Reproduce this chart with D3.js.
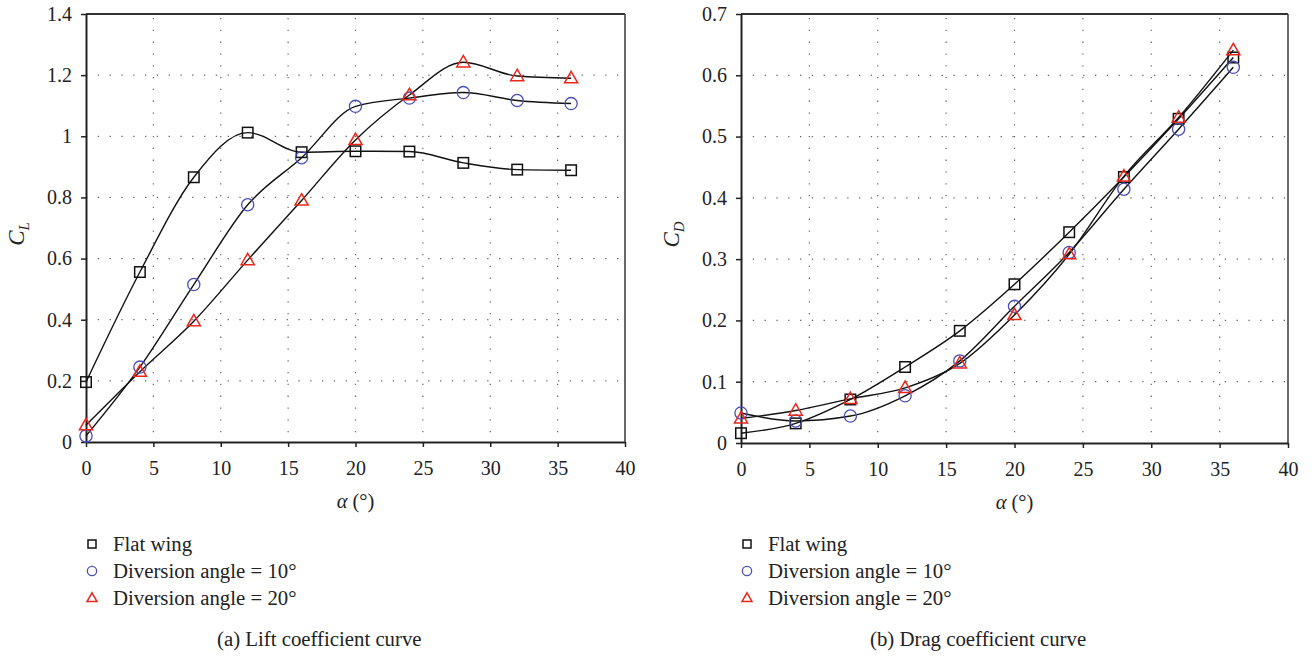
<!DOCTYPE html>
<html>
<head>
<meta charset="utf-8">
<script src="https://cdn.jsdelivr.net/npm/d3@7"></script>
<style>
  body { margin: 0; background: #fff; }
</style>
</head>
<body>
<div id="canvas"></div>
<script>
// data

const alpha = [0, 4, 8, 12, 16, 20, 24, 28, 32, 36];

const clFlat = [0.196, 0.556, 0.866, 1.012, 0.948, 0.951, 0.950, 0.913, 0.891, 0.889];
const cl10 = [0.020, 0.245, 0.515, 0.776, 0.930, 1.098, 1.125, 1.143, 1.117, 1.107];
const cl20 = [0.055, 0.230, 0.395, 0.595, 0.790, 0.988, 1.135, 1.242, 1.197, 1.190];

const cdFlat = [0.016, 0.032, 0.071, 0.124, 0.183, 0.259, 0.344, 0.434, 0.529, 0.629];
const cd10 = [0.049, 0.036, 0.044, 0.077, 0.134, 0.223, 0.311, 0.414, 0.512, 0.613];
const cd20 = [0.040, 0.053, 0.072, 0.090, 0.130, 0.209, 0.308, 0.435, 0.531, 0.641];

const seriesNames = ["Flat wing", "Diversion angle = 10\u00b0", "Diversion angle = 20\u00b0"];
const xTicks = [0, 5, 10, 15, 20, 25, 30, 35, 40];
const clTicks = [0, 0.2, 0.4, 0.6, 0.8, 1, 1.2, 1.4];
const cdTicks = [0, 0.1, 0.2, 0.3, 0.4, 0.5, 0.6, 0.7];

// constants
const width = 1314;
const height = 657;
const serif = "'Liberation Serif', 'DejaVu Serif', 'Times New Roman', serif";
const markerStyle = [
  { shape: "square", color: "#111" },
  { shape: "circle", color: "#4b4fb5" },
  { shape: "triangle", color: "#e8281e" }
];

const svg = d3.select('#canvas')
  .append('svg').attr('width', width).attr('height', height)
  .attr('font-family', serif);

// draws one marker centred at 0,0
function marker(sel, shape, color, s) {
  if (shape === "square") {
    sel.append("rect").attr("x", -s / 2).attr("y", -s / 2)
      .attr("width", s).attr("height", s)
      .attr("fill", "none").attr("stroke", color).attr("stroke-width", 1.5);
  } else if (shape === "circle") {
    sel.append("circle").attr("r", s * 0.58)
      .attr("fill", "none").attr("stroke", color).attr("stroke-width", 1.3);
  } else {
    const h = s * 1.05, w = s * 1.25;
    sel.append("path")
      .attr("d", `M0,${-h * 0.62}L${w / 2},${h * 0.42}L${-w / 2},${h * 0.42}Z`)
      .attr("fill", "none").attr("stroke", color).attr("stroke-width", 1.5);
  }
}

function txt(sel) {
  return sel.style("font-family", serif).attr("fill", "#222");
}

function drawPanel(opt) {
  const g = svg.append("g");
  const x = d3.scaleLinear().domain([0, 40]).range([opt.left, opt.right]);
  const y = d3.scaleLinear().domain([0, opt.ymax]).range([opt.bottom, opt.top]);

  // dotted grid
  g.append("g").selectAll("line")
    .data(xTicks.slice(1, -1)).join("line")
    .attr("x1", d => x(d)).attr("x2", d => x(d))
    .attr("y1", opt.top + 4).attr("y2", opt.bottom)
    .attr("stroke", "#666").attr("stroke-width", 1.2)
    .attr("stroke-dasharray", "1.3,10.5");
  g.append("g").selectAll("line")
    .data(opt.yTicks.slice(1, -1)).join("line")
    .attr("x1", opt.left).attr("x2", opt.right)
    .attr("y1", d => y(d)).attr("y2", d => y(d))
    .attr("stroke", "#666").attr("stroke-width", 1.2)
    .attr("stroke-dasharray", "1.3,10.5");

  // frame top / right
  g.append("line").attr("x1", opt.left).attr("x2", opt.right)
    .attr("y1", opt.top).attr("y2", opt.top)
    .attr("stroke", "#333").attr("stroke-width", 2);
  g.append("line").attr("x1", opt.right).attr("x2", opt.right)
    .attr("y1", opt.top).attr("y2", opt.bottom)
    .attr("stroke", "#444").attr("stroke-width", 1.6);

  // axes
  const xAxis = d3.axisBottom(x).tickValues(xTicks).tickSize(5).tickSizeOuter(0).tickPadding(14);
  const yAxis = d3.axisLeft(y).tickValues(opt.yTicks).tickSize(5).tickSizeOuter(0).tickPadding(9)
    .tickFormat(d => d3.format("~g")(d));
  const gx = g.append("g").attr("transform", `translate(0,${opt.bottom})`).call(xAxis);
  const gy = g.append("g").attr("transform", `translate(${opt.left},0)`).call(yAxis);
  [gx, gy].forEach(a => {
    a.attr("font-family", serif);
    a.select(".domain").attr("stroke", "#222").attr("stroke-width", 2);
    a.selectAll(".tick line").attr("stroke", "#222").attr("stroke-width", 1.5);
    txt(a.selectAll(".tick text")).attr("font-size", 20);
  });

  // curves
  const line = d3.line().x((d, i) => x(alpha[i])).y(d => y(d)).curve(d3.curveMonotoneX);
  opt.series.forEach(s => {
    g.append("path").datum(s).attr("d", line)
      .attr("fill", "none").attr("stroke", "#111").attr("stroke-width", 1.4);
  });

  // markers
  opt.series.forEach((s, k) => {
    s.forEach((v, i) => {
      const m = g.append("g").attr("transform", `translate(${x(alpha[i])},${y(v)})`);
      marker(m, markerStyle[k].shape, markerStyle[k].color, 10.5);
    });
  });

  // y title
  const yt = txt(g.append("text"))
    .attr("transform", `translate(${opt.left - 62},${(opt.top + opt.bottom) / 2 + 6}) rotate(-90)`)
    .attr("text-anchor", "middle").attr("font-size", 23).attr("font-style", "italic");
  yt.append("tspan").text("C");
  yt.append("tspan").attr("font-size", 15).attr("dy", 5).text(opt.sub);

  // x title
  const xt = txt(g.append("text"))
    .attr("x", (opt.left + opt.right) / 2).attr("y", opt.bottom + 66)
    .attr("text-anchor", "middle").attr("font-size", 20.5);
  xt.append("tspan").attr("font-style", "italic").text("\u03b1");
  xt.append("tspan").text(" (\u00b0)");

  // legend
  seriesNames.forEach((name, k) => {
    const ly = 544 + k * 27;
    const m = g.append("g").attr("transform", `translate(${opt.left + 6},${ly})`);
    marker(m, markerStyle[k].shape, markerStyle[k].color, 8);
    txt(g.append("text")).attr("x", opt.left + 27).attr("y", ly + 7)
      .attr("font-size", 20.8).text(name);
  });

  // caption
  txt(g.append("text")).attr("x", opt.captionX).attr("y", 646)
    .attr("font-size", 20.8).text(opt.caption);
}

drawPanel({
  left: 86, right: 625, top: 14, bottom: 442, ymax: 1.4,
  yTicks: clTicks, series: [clFlat, cl10, cl20], sub: "L",
  caption: "(a) Lift coefficient curve", captionX: 217
});
drawPanel({
  left: 741, right: 1288, top: 14, bottom: 443, ymax: 0.7,
  yTicks: cdTicks, series: [cdFlat, cd10, cd20], sub: "D",
  caption: "(b) Drag coefficient curve", captionX: 870
});
</script>
</body>
</html>
